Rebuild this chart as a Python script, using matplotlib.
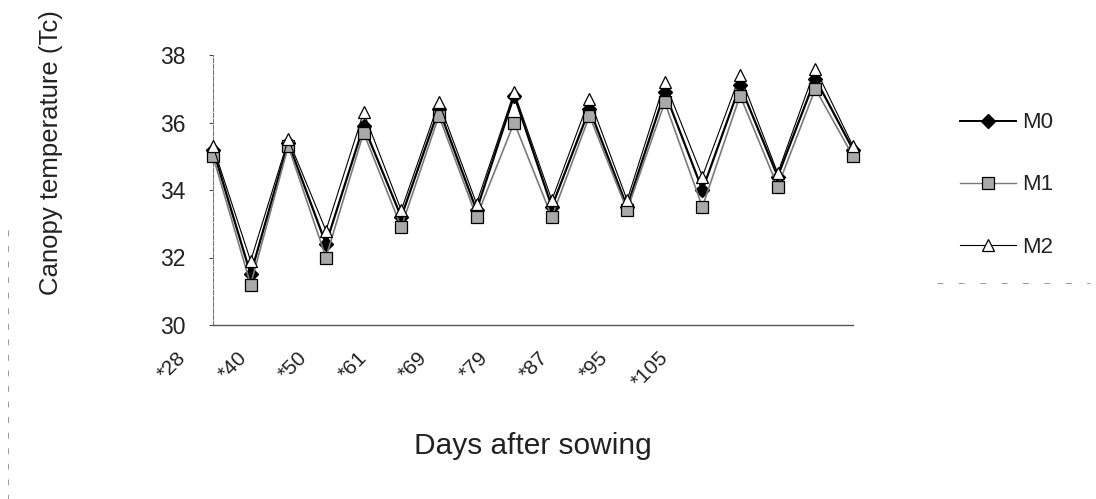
import matplotlib
matplotlib.use("Agg")
import matplotlib.pyplot as plt
from matplotlib.lines import Line2D

plt.rcParams["font.family"] = ["Liberation Sans", "DejaVu Sans"]

# Canopy temperature readings (18 observations)
m0 = [35.2, 31.5, 35.4, 32.4, 35.9, 33.2, 36.4, 33.4, 36.8,
      33.5, 36.4, 33.5, 36.9, 34.0, 37.1, 34.4, 37.3, 35.2]
m1 = [35.0, 31.2, 35.3, 32.0, 35.7, 32.9, 36.2, 33.2, 36.0,
      33.2, 36.2, 33.4, 36.6, 33.5, 36.8, 34.1, 37.0, 35.0]
m2 = [35.3, 31.9, 35.5, 32.8, 36.3, 33.4, 36.6, 33.6, 36.9,
      33.7, 36.7, 33.7, 37.2, 34.4, 37.4, 34.5, 37.6, 35.3]
day_labels = ["*28", "*40", "*50", "*61", "*69", "*79", "*87", "*95", "*105"]
# category-axis positions where the day labels sit
day_label_pos = [-0.61 + 1.6 * k for k in range(len(day_labels))]

x = list(range(len(m0)))

fig = plt.figure(figsize=(10.96, 4.99), dpi=100)
ax = fig.add_axes([213 / 1096, 1 - 325 / 499, 640 / 1096, 270 / 499])

ax.plot(x, m0, color="black", lw=1.6, marker="D", ms=7,
        mfc="black", mec="black", label="M0", clip_on=False, zorder=3)
ax.plot(x, m1, color="#7a7a7a", lw=1.2, marker="s", ms=8.5,
        mfc="#a9a9a9", mec="black", mew=0.9, label="M1", clip_on=False, zorder=4)
ax.plot(x, m2, color="black", lw=0.8, marker="^", ms=9,
        mfc="white", mec="black", mew=0.9, label="M2", clip_on=False, zorder=5)

ax.set_xlim(0, len(m0) - 1)
ax.set_ylim(30, 38)
ax.set_yticks([30, 32, 34, 36, 38])
ax.tick_params(axis="y", labelsize=16.5, length=3, width=0.6, pad=17, colors="#222222")
ax.set_xticks([])

for s in ["top", "right"]:
    ax.spines[s].set_visible(False)
ax.spines["left"].set_color("#777777")
ax.spines["left"].set_linewidth(0.8)
ax.spines["left"].set_linestyle((0, (4, 1.5)))
ax.spines["bottom"].set_color("#555555")
ax.spines["bottom"].set_linewidth(1.0)

for pos, lab in zip(day_label_pos, day_labels):
    ax.text(pos, -0.085, lab, transform=ax.get_xaxis_transform(),
            rotation=45, ha="right", va="top", fontsize=15,
            color="#222222", clip_on=False)

fig.text(533 / 1096, 1 - 446 / 499, "Days after sowing", ha="center",
         va="center", fontsize=21.5, color="#222222")
fig.text(51 / 1096, 1 - 153 / 499, "Canopy temperature (Tc)", ha="center",
         va="center", rotation=90, fontsize=18.5, color="#222222")

handles = [
    Line2D([], [], color="black", lw=1.4, marker="D", ms=7, mfc="black", mec="black"),
    Line2D([], [], color="#7a7a7a", lw=1.0, marker="s", ms=8.5, mfc="#a9a9a9", mec="black", mew=0.9),
    Line2D([], [], color="black", lw=0.8, marker="^", ms=8.5, mfc="white", mec="black", mew=0.9),
]
fig.legend(handles, ["M0", "M1", "M2"], loc="center left",
           bbox_to_anchor=(960 / 1096, 1 - 185 / 499), frameon=False,
           fontsize=16, handlelength=2.5, handletextpad=0.3,
           labelspacing=1.85, borderpad=0, borderaxespad=0,
           labelcolor="#222222")

# faint remnants of the chart-area and legend borders
fig.add_artist(Line2D([8 / 1096, 8 / 1096], [1 - 230 / 499, 1 - 499 / 499],
                      transform=fig.transFigure, color="#999999", lw=0.7,
                      ls=(0, (6, 10))))
fig.add_artist(Line2D([937 / 1096, 1090 / 1096], [1 - 283 / 499, 1 - 283 / 499],
                      transform=fig.transFigure, color="#999999", lw=0.7,
                      ls=(0, (6, 16))))

fig.savefig("out.png", dpi=100)
